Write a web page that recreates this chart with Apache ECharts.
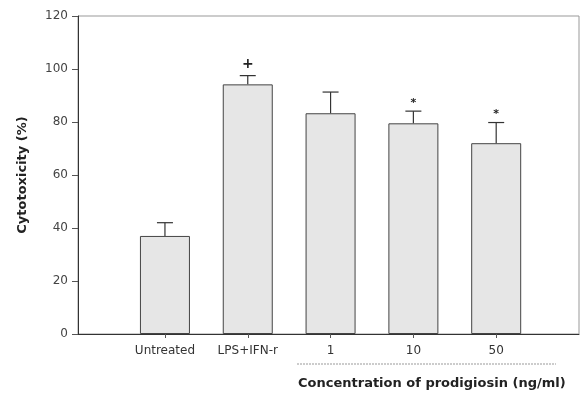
<!DOCTYPE html>
<html>
<head>
<meta charset="utf-8">
<script src="https://cdn.jsdelivr.net/npm/echarts@6/dist/echarts.min.js"></script>
<style>
  html, body { margin: 0; padding: 0; background: #fff; }
  #main { width: 584px; height: 394px; }
</style>
</head>
<body>
<div id="main"></div>
<script>
// values
var groups = ['Untreated', 'LPS+IFN-r', '1', '10', '50'];
var positions = [1, 2, 3, 4, 5];
var cytotoxicity = [37, 94.2, 83.3, 79.5, 72];
var errors = [5, 3.3, 8, 4.6, 7.8];
var marks = ['', '+', '', '*', '*'];
var yTicks = [0, 20, 40, 60, 80, 100, 120];

var font = 'DejaVu Sans';

var barData = positions.map(function (p, i) { return [p, cytotoxicity[i]]; });
var errData = positions.map(function (p, i) { return [p, cytotoxicity[i], errors[i], marks[i]]; });

var myChart = echarts.init(document.getElementById('main'));
var option = {
    animation: false,
    grid: {
        left: 78, right: 5, top: 16, bottom: 60,
        show: true, borderColor: '#999', borderWidth: 1
    },
    xAxis: {
        type: 'value',
        min: -0.05,
        max: 6,
        splitLine: { show: false },
        axisLine: { show: true, onZero: false, lineStyle: { color: '#333', width: 1 } },
        axisTick: { show: true, customValues: positions, length: 4, lineStyle: { color: '#555' } },
        axisLabel: {
            customValues: positions,
            margin: 11,
            color: '#333',
            fontFamily: font,
            fontSize: 12,
            formatter: function (v) { return groups[positions.indexOf(v)]; }
        }
    },
    yAxis: {
        type: 'value',
        min: 0,
        max: 120,
        interval: 20,
        name: 'Cytotoxicity (%)',
        nameLocation: 'middle',
        nameGap: 49,
        nameTextStyle: { fontFamily: font, fontSize: 13, fontWeight: 'bold', color: '#222' },
        splitLine: { show: false },
        axisLine: { show: true, onZero: false, lineStyle: { color: '#333', width: 1 } },
        axisTick: { show: true, inside: false, length: 6, lineStyle: { color: '#555' } },
        axisLabel: {
            margin: 10,
            color: '#444',
            fontFamily: font,
            fontSize: 12,
            formatter: function (v) { return yTicks.indexOf(v) >= 0 ? v : ''; }
        }
    },
    series: [
        {
            type: 'bar',
            data: barData,
            barWidth: 50,
            itemStyle: { color: '#e6e6e6', borderColor: '#444', borderWidth: 1 },
            z: 2
        },
        {
            type: 'custom',
            data: errData,
            z: 3,
            renderItem: function (params, api) {
                var x = api.value(0);
                var mean = api.value(1);
                var err = api.value(2);
                var mark = marks[params.dataIndex];
                var base = api.coord([x, mean]);
                var top = api.coord([x, mean + err]);
                var cap = 8;
                var children = [
                    { type: 'line', shape: { x1: base[0], y1: base[1], x2: top[0], y2: top[1] },
                      style: { stroke: '#333', lineWidth: 1.2 } },
                    { type: 'line', shape: { x1: top[0] - cap, y1: top[1], x2: top[0] + cap, y2: top[1] },
                      style: { stroke: '#333', lineWidth: 1.2 } }
                ];
                if (mark) {
                    children.push({
                        type: 'text',
                        style: {
                            x: top[0], y: top[1] - (mark === '+' ? 11 : 8),
                            text: mark, align: 'center', verticalAlign: 'middle',
                            fontFamily: font, fontWeight: 'bold',
                            fontSize: mark === '+' ? 14 : 11, fill: '#222'
                        }
                    });
                }
                return { type: 'group', children: children };
            }
        }
    ],
    graphic: [
        { type: 'line', shape: { x1: 297, y1: 364, x2: 556, y2: 364 },
          style: { stroke: '#999', lineWidth: 1, lineDash: [2, 1] } },
        { type: 'text', left: 298, top: 377,
          style: { text: 'Concentration of prodigiosin (ng/ml)', fontFamily: font,
                   fontSize: 13, fontWeight: 'bold', fill: '#222' } }
    ]
};
myChart.setOption(option);
</script>
</body>
</html>
